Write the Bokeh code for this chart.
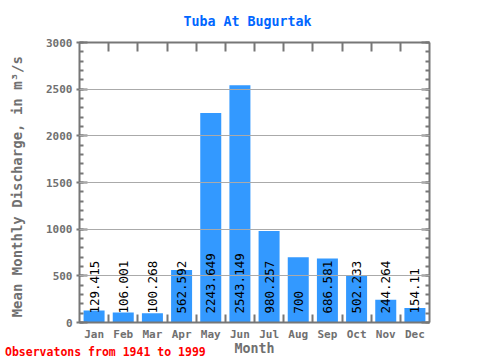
import math
from bokeh.plotting import figure
from bokeh.layouts import column
from bokeh.models import FixedTicker, LinearAxis, Range1d, ColumnDataSource, Grid, Div
from bokeh.embed import file_html
from bokeh.resources import INLINE
from bokeh.core.properties import value

months = ["Jan", "Feb", "Mar", "Apr", "May", "Jun", "Jul", "Aug", "Sep", "Oct", "Nov", "Dec"]
discharge = [129.415, 106.001, 100.268, 562.592, 2243.649, 2543.149,
             980.257, 700, 686.581, 502.233, 244.264, 154.11]
y_ticks = [0, 500, 1000, 1500, 2000, 2500, 3000]
y_minor = list(range(0, 3001, 100))
title_text = "Tuba At Bugurtak"
y_label = "Mean Monthly Discharge, in  m³/s"
x_label = "Month"
footer_text = "Observatons from 1941 to 1999"

FONT = "DejaVu Sans Mono"
GRAY = "#707070"
AXIS = "#777777"

n = len(months)
centers = [i + 0.5 for i in range(n)]
bounds = list(range(1, n))
labels = [("%.3f" % v).rstrip("0").rstrip(".") for v in discharge]

src = ColumnDataSource(dict(x=centers, top=discharge, label=labels))

p = figure(width=480, height=360, output_backend="svg", toolbar_location=None,
           x_range=Range1d(0, n), y_range=Range1d(0, 3000),
           min_border_left=79, min_border_right=51, min_border_top=42, min_border_bottom=38,
           x_axis_type=None, y_axis_type=None, title=title_text)
p.outline_line_color = None
p.background_fill_color = "white"
p.border_fill_color = "white"
p.title.align = "left"
p.title.vertical_align = "top"
p.title.text_font = FONT
p.title.text_font_size = "13.3px"
p.title.text_font_style = "bold"
p.title.text_color = "#0066ff"
p.title.offset = 104
p.title.standoff = 23

p.vbar(x="x", top="top", width=0.72, bottom=0, source=src,
       fill_color="#3399ff", line_color=None)

p.text(x="x", y=0, text="label", source=src, angle=math.pi / 2,
       text_align="left", text_baseline="middle", y_offset=-9,
       text_font=value(FONT), text_font_size="12.5px", text_color="black")

grid = Grid(dimension=1, ticker=FixedTicker(ticks=y_ticks[1:-1]),
            grid_line_color="#aaaaaa", grid_line_width=1, level="overlay")
p.add_layout(grid)


def style(ax):
    ax.axis_line_color = AXIS
    ax.axis_line_width = 2
    ax.major_tick_line_color = AXIS
    ax.major_tick_line_width = 2
    ax.minor_tick_line_color = AXIS
    ax.minor_tick_line_width = 2
    ax.major_label_text_font = FONT
    ax.major_label_text_font_size = "11px"
    ax.major_label_text_font_style = "bold"
    ax.major_label_text_color = GRAY


# bottom axis
xb = LinearAxis(ticker=FixedTicker(ticks=centers, minor_ticks=bounds),
                major_label_overrides={c: m for c, m in zip(centers, months)},
                axis_label=x_label)
style(xb)
xb.major_tick_in = 0
xb.major_tick_out = 0
xb.minor_tick_in = 8
xb.minor_tick_out = 0
xb.major_label_standoff = 5
xb.axis_label_text_font = FONT
xb.axis_label_text_font_size = "13.3px"
xb.axis_label_text_font_style = "bold"
xb.axis_label_text_color = GRAY
xb.axis_label_standoff = -3
p.add_layout(xb, "below")

# top axis
xt = LinearAxis(ticker=FixedTicker(ticks=centers, minor_ticks=bounds),
                major_label_overrides={c: "" for c in centers})
style(xt)
xt.major_tick_in = 0
xt.major_tick_out = 0
xt.minor_tick_in = 9
xt.minor_tick_out = 0
xt.major_label_standoff = 0
p.add_layout(xt, "above")

# left axis
yl = LinearAxis(ticker=FixedTicker(ticks=y_ticks, minor_ticks=y_minor), axis_label=y_label)
style(yl)
yl.major_tick_in = 8
yl.major_tick_out = 3
yl.minor_tick_in = 4
yl.minor_tick_out = 0
yl.major_label_standoff = 4
yl.axis_label_text_font = FONT
yl.axis_label_text_font_size = "14px"
yl.axis_label_text_font_style = "bold"
yl.axis_label_text_color = GRAY
yl.axis_label_standoff = 18
p.add_layout(yl, "left")

# right axis
yr = LinearAxis(ticker=FixedTicker(ticks=y_ticks, minor_ticks=y_minor),
                major_label_overrides={t: "" for t in y_ticks})
style(yr)
yr.major_tick_in = 8
yr.major_tick_out = 0
yr.minor_tick_in = 4
yr.minor_tick_out = 0
yr.major_label_standoff = 0
p.add_layout(yr, "right")

footer = Div(text=footer_text, width=300, height=15, margin=(-15, 0, 0, 5),
             styles={"color": "#ff0000", "font-family": FONT, "font-weight": "bold",
                     "font-size": "11.5px", "line-height": "15px", "white-space": "nowrap"})

layout = column(p, footer, spacing=0)

open("out.html", "w").write(file_html(layout, INLINE))
